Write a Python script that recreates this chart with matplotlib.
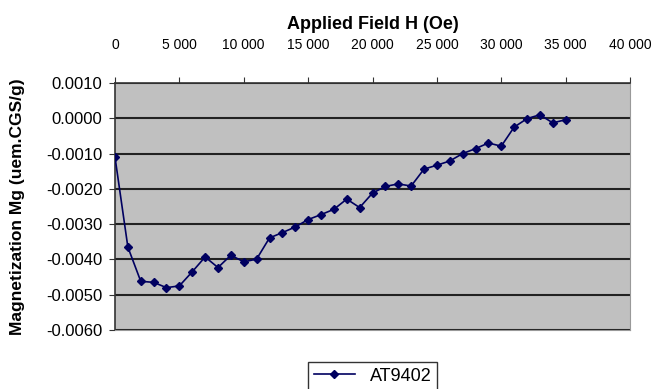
import matplotlib
matplotlib.use('Agg')
import matplotlib.pyplot as plt
from matplotlib.ticker import FuncFormatter

plt.rcParams['font.family'] = ['Liberation Sans', 'DejaVu Sans']

# applied field (Oe) and magnetization (uem CGS/g)
field = [0, 1000, 2000, 3000, 4000, 5000, 6000, 7000, 8000, 9000,
         10000, 11000, 12000, 13000, 14000, 15000, 16000, 17000, 18000, 19000,
         20000, 21000, 22000, 23000, 24000, 25000, 26000, 27000, 28000, 29000,
         30000, 31000, 32000, 33000, 34000, 35000]
mag = [-0.00110, -0.00365, -0.00462, -0.00465, -0.00480, -0.00475, -0.00435, -0.00393, -0.00423, -0.00388,
       -0.00407, -0.00399, -0.00339, -0.00324, -0.00308, -0.00287, -0.00273, -0.00258, -0.00229, -0.00253,
       -0.00212, -0.00193, -0.00186, -0.00192, -0.00144, -0.00133, -0.00121, -0.00100, -0.00086, -0.00070,
       -0.00079, -0.00025, -0.00001, 0.00010, -0.00013, -0.00004]
label = 'AT9402'

fig = plt.figure(figsize=(6.62, 3.89), dpi=100)
ax = fig.add_axes([0.1737, 0.1517, 0.7780, 0.6349])
ax.set_facecolor('#c0c0c0')

ax.plot(field, mag, color='#000060', lw=1.2, marker='D', ms=4.5, label=label, zorder=3)

ax.set_xlim(0, 40000)
ax.set_ylim(-0.006, 0.001)
ax.set_xticks(range(0, 40001, 5000))
ax.set_yticks([0.001 - 0.001 * i for i in range(8)])
ax.xaxis.set_major_formatter(FuncFormatter(lambda v, p: '{:,}'.format(int(v)).replace(',', ' ')))
ax.yaxis.set_major_formatter(FuncFormatter(lambda v, p: '{:.4f}'.format(v) if abs(v) > 1e-9 else '0.0000'))

ax.xaxis.tick_top()
ax.xaxis.set_label_position('top')
ax.tick_params(axis='both', direction='out', length=4, color='#333333')
ax.tick_params(axis='x', labelsize=10, pad=18)
ax.tick_params(axis='y', labelsize=12, pad=5)

ax.grid(axis='y', color='#222222', lw=1.5)
ax.set_axisbelow(True)
for s in ['top', 'left']:
    ax.spines[s].set_color('#333333')
    ax.spines[s].set_linewidth(1.2)
for s in ['bottom', 'right']:
    ax.spines[s].set_color('#999999')

ax.set_xlabel('Applied Field H (Oe)', fontsize=13, fontweight='bold', labelpad=7)
ax.set_ylabel('Magnetization Mg (uem.CGS/g)', fontsize=12.5, fontweight='bold', labelpad=15)

leg = ax.legend(loc='upper center', bbox_to_anchor=(0.5, -0.13), borderaxespad=0, frameon=True,
                fancybox=False, edgecolor='black', fontsize=13, handlelength=2.3, borderpad=0.3,
                markerscale=0.8)
leg.get_frame().set_linewidth(1.0)

fig.savefig('out.png', dpi=100)
